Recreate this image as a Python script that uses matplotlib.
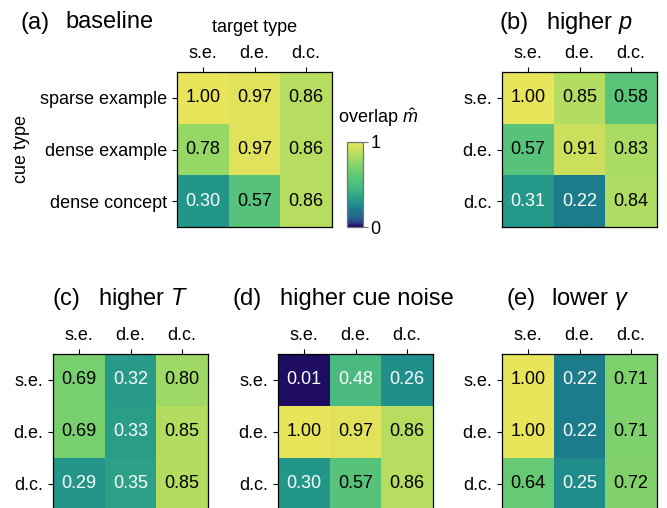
import numpy as np
import matplotlib
matplotlib.use('Agg')
import matplotlib.pyplot as plt
from matplotlib.colors import LinearSegmentedColormap, Normalize

plt.rcParams['font.family'] = ['Liberation Sans', 'DejaVu Sans']
plt.rcParams['mathtext.fontset'] = 'custom'
plt.rcParams['mathtext.rm'] = 'Liberation Sans'
plt.rcParams['mathtext.it'] = 'Liberation Sans:italic'

# Overlap values (rows: cue type, cols: target type)
baseline = [[1.00, 0.97, 0.86],
            [0.78, 0.97, 0.86],
            [0.30, 0.57, 0.86]]
higher_p = [[1.00, 0.85, 0.58],
            [0.57, 0.91, 0.83],
            [0.31, 0.22, 0.84]]
higher_T = [[0.69, 0.32, 0.80],
            [0.69, 0.33, 0.85],
            [0.29, 0.35, 0.85]]
higher_noise = [[0.01, 0.48, 0.26],
                [1.00, 0.97, 0.86],
                [0.30, 0.57, 0.86]]
lower_gamma = [[1.00, 0.22, 0.71],
               [1.00, 0.22, 0.71],
               [0.64, 0.25, 0.72]]

short_labels = ['s.e.', 'd.e.', 'd.c.']
long_labels = ['sparse example', 'dense example', 'dense concept']

# colormap sampled from the figure (viridis-like, sqrt-stretched)
cmap_stops = [0.00, 0.01, 0.05, 0.10, 0.15, 0.22, 0.26, 0.30, 0.40, 0.48,
              0.57, 0.64, 0.71, 0.78, 0.85, 0.91, 0.97, 1.00]
cmap_colors = ['#1c0c5a', '#1f0e65', '#2a3f86', '#2a5e8c', '#256f8d', '#1d7d8b',
               '#21908c', '#24978a', '#38ac86', '#4bbb81', '#58c47a', '#67ca74',
               '#7fd26d', '#97d767', '#b2dd62', '#cce05c', '#dfe25a', '#e9e55a']
cmap = LinearSegmentedColormap.from_list('overlap', list(zip(cmap_stops, cmap_colors)))
norm = Normalize(0, 1)

W, H = 667, 508
fig = plt.figure(figsize=(W / 100, H / 100), dpi=100)


def px_axes(x0, y0, w, h):
    return fig.add_axes([x0 / W, 1 - (y0 + h) / H, w / W, h / H])


def heatmap(ax, vals, ylabels):
    vals = np.array(vals)
    ax.imshow(vals, cmap=cmap, norm=norm, aspect='auto')
    for i in range(3):
        for j in range(3):
            v = vals[i, j]
            ax.text(j, i, f'{v:.2f}', ha='center', va='center', fontsize=13,
                    color='white' if v < 0.5 else 'black')
    ax.xaxis.tick_top()
    ax.set_xticks(range(3), short_labels)
    ax.set_yticks(range(3), ylabels)
    ax.tick_params(labelsize=13, length=3.5, width=0.8)
    for s in ax.spines.values():
        s.set_linewidth(0.9)


def panel_title(x_tag, x_txt, y, tag, txt):
    fig.text(x_tag / W, 1 - y / H, tag, fontsize=17, ha='left', va='baseline')
    fig.text(x_txt / W, 1 - y / H, txt, fontsize=17, ha='left', va='baseline')


ax_a = px_axes(177, 72, 155, 155)
heatmap(ax_a, baseline, long_labels)
ax_b = px_axes(502, 72, 155, 155)
heatmap(ax_b, higher_p, short_labels)
ax_c = px_axes(53, 354, 155, 156)
heatmap(ax_c, higher_T, short_labels)
ax_d = px_axes(278, 354, 155, 156)
heatmap(ax_d, higher_noise, short_labels)
ax_e = px_axes(502, 354, 155, 156)
heatmap(ax_e, lower_gamma, short_labels)

panel_title(20, 65, 28.5, '(a)', 'baseline')
panel_title(500, 546, 28.5, '(b)', 'higher $p$')
panel_title(53, 98, 305, '(c)', 'higher $T$')
panel_title(233, 280, 305, '(d)', 'higher cue noise')
panel_title(506, 551, 305, '(e)', r'lower $\gamma$')

fig.text(254.5 / W, 1 - 32 / H, 'target type', fontsize=13, ha='center', va='baseline')
fig.text(21.5 / W, 1 - 149.5 / H, 'cue type', fontsize=13, ha='center', va='center',
         rotation=90)

# colorbar
cax = px_axes(347, 142, 16, 85)
sm = plt.cm.ScalarMappable(norm=norm, cmap=cmap)
cb = fig.colorbar(sm, cax=cax, ticks=[0, 1])
cb.ax.set_yticklabels(['0', '1'])
cb.ax.tick_params(labelsize=13, length=3.5, width=0.8, color='0.45', pad=2)
cb.outline.set_edgecolor('0.45')
cb.outline.set_linewidth(0.9)
fig.text(338 / W, 1 - 123 / H, r'overlap $\hat{m}$', fontsize=13, ha='left', va='baseline')

fig.savefig('out.png', dpi=100)
